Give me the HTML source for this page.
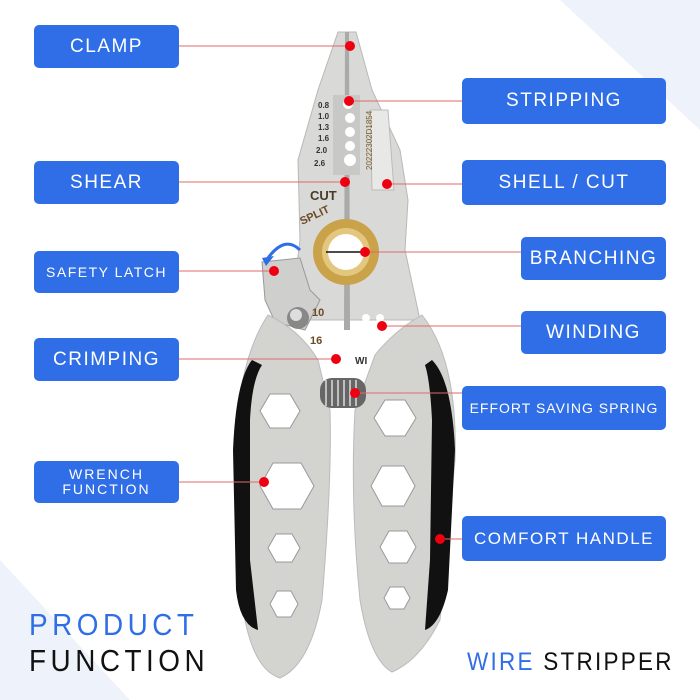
<!DOCTYPE html>
<html><head><meta charset="utf-8"><style>
body{margin:0;width:700px;height:700px;overflow:hidden;background:#fff;position:relative;font-family:"Liberation Sans",sans-serif}
.l{position:absolute;background:#2f6ee6;color:#fff;border-radius:5px;display:flex;align-items:center;justify-content:center;letter-spacing:1.5px;font-size:19px}
.b{position:absolute;font-size:31px;letter-spacing:5px;transform:scaleX(.9);transform-origin:left top}
</style></head><body>
<svg width="700" height="700" style="position:absolute;left:0;top:0">
<polygon points="560,0 700,0 700,130" fill="#eef3fb"/>
<polygon points="0,560 0,700 130,700" fill="#eef3fb"/>
<polygon points="338,32 356,32 372,90 400,150 408,200 405,250 420,320 290,320 300,240 298,160 318,90" fill="#d9d9d7" stroke="#b8b8b6"/>
<polygon points="345,32 349,32 350,330 344,330" fill="#aaa"/>
<polygon points="333,95 360,95 360,175 333,175" fill="#c8c8c6"/>
<circle cx="348" cy="104" r="5" fill="#fff"/><circle cx="350" cy="118" r="5" fill="#fff"/><circle cx="350" cy="132" r="5" fill="#fff"/><circle cx="350" cy="146" r="5" fill="#fff"/><circle cx="350" cy="160" r="6" fill="#fff"/>
<polygon points="370,110 388,110 394,190 372,190" fill="#e8e8e6" stroke="#bbb"/>
<circle cx="346" cy="252" r="33" fill="#c9a24a"/><circle cx="346" cy="252" r="24" fill="#e3c77e"/><circle cx="346" cy="252" r="18" fill="#fff"/>
<line x1="326" y1="252" x2="362" y2="252" stroke="#111" stroke-width="1.5"/>
<polygon points="262,262 300,258 310,290 320,300 305,330 275,322 265,300" fill="#cfcfcd" stroke="#999"/>
<circle cx="298" cy="318" r="11" fill="#888"/><circle cx="296" cy="315" r="6" fill="#ddd"/>
<path d="M300,250 Q285,235 268,258" stroke="#2f6ee6" stroke-width="3" fill="none"/>
<polygon points="262,258 274,256 266,266" fill="#2f6ee6"/>
<circle cx="366" cy="318" r="4" fill="#fff"/><circle cx="380" cy="318" r="4" fill="#fff"/><circle cx="366" cy="332" r="4" fill="#fff"/><circle cx="380" cy="332" r="4" fill="#fff"/>
<text x="312" y="316" font-size="11" fill="#6b4a24" font-weight="bold">10</text>
<text x="310" y="344" font-size="11" fill="#6b4a24" font-weight="bold">16</text>
<text x="355" y="364" font-size="10" fill="#333" font-weight="bold">WI</text>
<text x="310" y="200" font-size="13" fill="#4a3a28" font-weight="bold">CUT</text>
<text x="302" y="225" font-size="11" fill="#6b4a24" font-weight="bold" transform="rotate(-25 302 225)">SPLIT</text>
<g font-size="8" fill="#333" font-weight="bold"><text x="318" y="108">0.8</text><text x="318" y="119">1.0</text><text x="318" y="130">1.3</text><text x="318" y="141">1.6</text><text x="316" y="153">2.0</text><text x="314" y="166">2.6</text></g>
<text x="372" y="170" font-size="8" fill="#7a5a2a" transform="rotate(-90 372 170)">20222302D1854</text>
<path d="M268,315 Q300,330 318,360 L330,410 Q332,480 322,600 Q310,665 280,678 Q255,670 245,620 L235,450 Q238,360 268,315Z" fill="#d3d3d0" stroke="#bbb"/>
<path d="M252,360 Q236,380 233,450 L236,590 Q240,625 258,630 L250,560 L250,420 Q252,380 262,365Z" fill="#111"/>
<path d="M422,315 Q395,330 375,355 L355,410 Q350,500 360,600 Q370,660 392,672 Q420,660 440,620 L455,460 Q458,360 422,315Z" fill="#d3d3d0" stroke="#bbb"/>
<path d="M432,360 Q452,380 455,450 L448,590 Q440,625 425,630 L430,560 L432,420 Q430,380 425,365Z" fill="#111"/>
<rect x="320" y="378" width="46" height="30" rx="12" fill="#666"/>
<g stroke="#ddd" stroke-width="1.5"><line x1="326" y1="380" x2="326" y2="406"/><line x1="332" y1="380" x2="332" y2="406"/><line x1="338" y1="380" x2="338" y2="406"/><line x1="344" y1="380" x2="344" y2="406"/><line x1="350" y1="380" x2="350" y2="406"/><line x1="356" y1="380" x2="356" y2="406"/></g>
<g fill="#fff" stroke="#999">
<polygon points="270,394 290,394 300,411 290,428 270,428 260,411"/>
<polygon points="273,463 301,463 314,486 301,509 273,509 260,486"/>
<polygon points="276,534 292,534 300,548 292,562 276,562 268,548"/>
<polygon points="277,591 291,591 298,604 291,617 277,617 270,604"/>
<polygon points="385,400 405,400 416,418 405,436 385,436 374,418"/>
<polygon points="382,466 404,466 415,486 404,506 382,506 371,486"/>
<polygon points="389,531 407,531 416,547 407,563 389,563 380,547"/>
<polygon points="390,587 404,587 410,598 404,609 390,609 384,598"/>
</g>
<g stroke="#e06a6a" stroke-width="1">
<line x1="179" y1="46" x2="350" y2="46"/><line x1="349" y1="101" x2="462" y2="101"/>
<line x1="179" y1="182" x2="345" y2="182"/><line x1="387" y1="184" x2="462" y2="184"/>
<line x1="365" y1="252" x2="521" y2="252"/><line x1="179" y1="271" x2="274" y2="271"/>
<line x1="382" y1="326" x2="521" y2="326"/><line x1="179" y1="359" x2="336" y2="359"/>
<line x1="355" y1="393" x2="462" y2="393"/><line x1="179" y1="482" x2="264" y2="482"/>
<line x1="440" y1="539" x2="462" y2="539"/></g>
<g fill="#ee0010">
<circle cx="350" cy="46" r="5"/><circle cx="349" cy="101" r="5"/><circle cx="345" cy="182" r="5"/><circle cx="387" cy="184" r="5"/>
<circle cx="365" cy="252" r="5"/><circle cx="274" cy="271" r="5"/><circle cx="382" cy="326" r="5"/><circle cx="336" cy="359" r="5"/>
<circle cx="355" cy="393" r="5"/><circle cx="264" cy="482" r="5"/><circle cx="440" cy="539" r="5"/></g>
</svg>
<div class="l" style="left:34px;top:25px;width:145px;height:43px">CLAMP</div>
<div class="l" style="left:34px;top:161px;width:145px;height:43px">SHEAR</div>
<div class="l" style="left:34px;top:251px;width:145px;height:42px;font-size:14px">SAFETY LATCH</div>
<div class="l" style="left:34px;top:338px;width:145px;height:43px">CRIMPING</div>
<div class="l" style="left:34px;top:461px;width:145px;height:42px;font-size:14px;line-height:15px;text-align:center;letter-spacing:2px">WRENCH<br>FUNCTION</div>
<div class="l" style="left:462px;top:78px;width:204px;height:46px">STRIPPING</div>
<div class="l" style="left:462px;top:160px;width:204px;height:45px">SHELL / CUT</div>
<div class="l" style="left:521px;top:237px;width:145px;height:43px">BRANCHING</div>
<div class="l" style="left:521px;top:311px;width:145px;height:43px">WINDING</div>
<div class="l" style="left:462px;top:386px;width:204px;height:44px;font-size:14px;letter-spacing:1px">EFFORT SAVING SPRING</div>
<div class="l" style="left:462px;top:516px;width:204px;height:45px;font-size:17px">COMFORT HANDLE</div>
<div class="b" style="left:29px;top:607px;color:#2f6ee6">PRODUCT</div>
<div class="b" style="left:29px;top:643px;color:#111">FUNCTION</div>
<div class="b" style="left:467px;top:648px;font-size:25px;letter-spacing:2.5px;transform:scaleX(.9)"><span style="color:#2f6ee6">WIRE</span> <span style="color:#111">STRIPPER</span></div>
</body></html>
